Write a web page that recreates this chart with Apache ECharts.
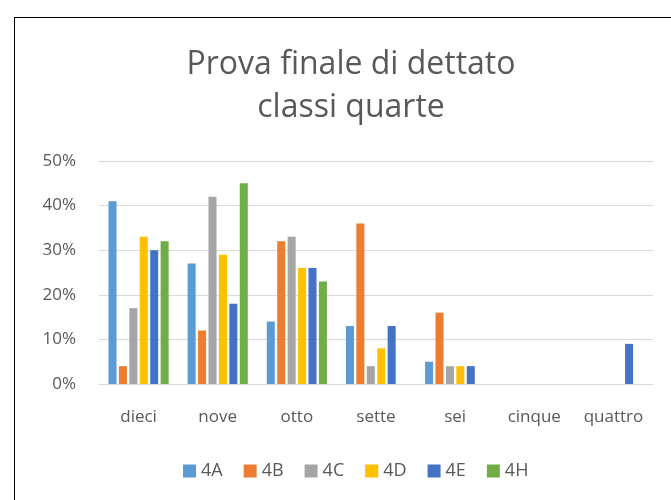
<!DOCTYPE html>
<html>
	<head>
		<meta charset="utf-8">
		<title>Prova finale di dettato</title>
		<script src="https://cdn.jsdelivr.net/npm/echarts@6/dist/echarts.min.js"></script>
		<style>
			html, body { margin: 0; padding: 0; background: #fff; }
			#frame {
				position: absolute; left: 14px; top: 17px;
				width: 680px; height: 500px;
				border: 1px solid #000;
				box-sizing: border-box;
			}
			#chart { position: absolute; left: 0; top: 0; width: 671px; height: 500px; }
		</style>
	</head>
	<body>
		<div id="frame"></div>
		<div id="chart"></div>
		<script>
			// categorie (voti) e percentuali per classe
			var voti = ['dieci', 'nove', 'otto', 'sette', 'sei', 'cinque', 'quattro'];
			var classi = ['4A', '4B', '4C', '4D', '4E', '4H'];
			var v4A = [41, 27, 14, 13, 5, 0, 0];
			var v4B = [4, 12, 32, 36, 16, 0, 0];
			var v4C = [17, 42, 33, 4, 4, 0, 0];
			var v4D = [33, 29, 26, 8, 4, 0, 0];
			var v4E = [30, 18, 26, 13, 4, 0, 9];
			var v4H = [32, 45, 23, 0, 0, 0, 0];
			var colori = ['#5B9BD5', '#ED7D31', '#A5A5A5', '#FFC000', '#4472C4', '#70AD47'];
			var dati = [v4A, v4B, v4C, v4D, v4E, v4H];

			var chart = echarts.init(document.getElementById('chart'));

			var series = [];
			for (var i = 0; i < classi.length; i++) {
				series.push({
					name: classi[i],
					type: 'bar',
					data: dati[i],
					barGap: '30%',
					barCategoryGap: '24%',
					itemStyle: { color: colori[i] }
				});
			}

			var option = {
				animation: false,
				textStyle: { fontFamily: 'Open Sans', color: '#595959' },
				title: {
					text: 'Prova finale di dettato\nclassi quarte',
					left: 346,
					top: 38,
					textAlign: 'center',
					textStyle: {
						fontFamily: 'Open Sans',
						fontWeight: 'normal',
						fontSize: 32,
						lineHeight: 43,
						color: '#595959'
					}
				},
				legend: {
					data: classi,
					top: 457,
					left: 178,
					itemWidth: 13,
					itemHeight: 13,
					itemGap: 21,
					icon: 'rect',
					textStyle: { fontSize: 18, color: '#595959' }
				},
				grid: { left: 99, right: 18, top: 161, bottom: 116 },
				xAxis: {
					type: 'category',
					data: voti,
					axisLine: { show: true, lineStyle: { color: '#D9D9D9', width: 1 } },
					axisTick: { show: false },
					axisLabel: { fontSize: 17, color: '#595959', margin: 25 }
				},
				yAxis: {
					type: 'value',
					min: 0,
					max: 50,
					interval: 10,
					axisLine: { show: false },
					axisTick: { show: false },
					splitLine: { lineStyle: { color: '#D9D9D9', width: 1 } },
					axisLabel: {
						fontSize: 17,
						color: '#595959',
						margin: 23,
						formatter: function (v) { return v + '%'; }
					}
				},
				series: series
			};
			chart.setOption(option);
		</script>
	</body>
</html>
